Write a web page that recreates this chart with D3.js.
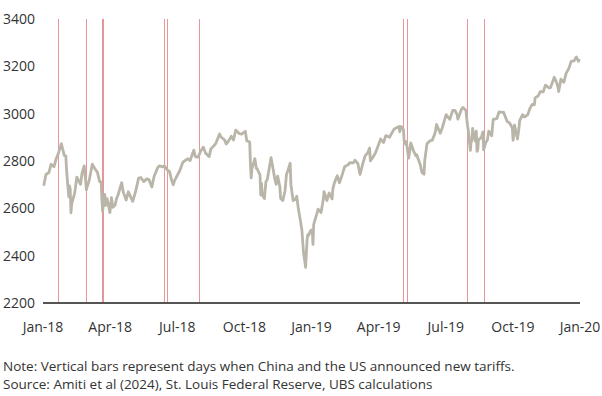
<!DOCTYPE html>
<html>
<head>
<meta charset="utf-8">
<script src="https://cdn.jsdelivr.net/npm/d3@7"></script>
<style>
  body { margin: 0; background: #fff; }
  svg { display: block; font-family: "Open Sans", sans-serif; }
</style>
</head>
<body>
<svg id="chart" width="602" height="396"></svg>
<script>
// S&P 500 closes (approximate)
const dates = [
  "2018-01-02","2018-01-05","2018-01-09","2018-01-12","2018-01-16","2018-01-19","2018-01-22","2018-01-26","2018-01-30","2018-02-01",
  "2018-02-02","2018-02-05","2018-02-06","2018-02-07","2018-02-08","2018-02-09","2018-02-13","2018-02-16","2018-02-21","2018-02-23",
  "2018-02-26","2018-02-28","2018-03-01","2018-03-02","2018-03-05","2018-03-09","2018-03-13","2018-03-16","2018-03-19","2018-03-21",
  "2018-03-22","2018-03-23","2018-03-26","2018-03-27","2018-03-29","2018-04-02","2018-04-04","2018-04-06","2018-04-09","2018-04-11",
  "2018-04-13","2018-04-18","2018-04-20","2018-04-24","2018-04-27","2018-05-03","2018-05-07","2018-05-11","2018-05-14","2018-05-18",
  "2018-05-22","2018-05-25","2018-05-29","2018-06-01","2018-06-06","2018-06-08","2018-06-13","2018-06-15","2018-06-19","2018-06-22",
  "2018-06-25","2018-06-27","2018-06-29","2018-07-06","2018-07-10","2018-07-13","2018-07-17","2018-07-20","2018-07-25","2018-07-27",
  "2018-07-31","2018-08-03","2018-08-07","2018-08-10","2018-08-15","2018-08-17","2018-08-21","2018-08-24","2018-08-29","2018-08-31",
  "2018-09-05","2018-09-07","2018-09-11","2018-09-14","2018-09-17","2018-09-20","2018-09-25","2018-09-28","2018-10-03","2018-10-05",
  "2018-10-09","2018-10-10","2018-10-11","2018-10-12","2018-10-16","2018-10-18","2018-10-19","2018-10-23","2018-10-24","2018-10-25",
  "2018-10-26","2018-10-29","2018-10-31","2018-11-02","2018-11-07","2018-11-09","2018-11-12","2018-11-14","2018-11-16","2018-11-19",
  "2018-11-20","2018-11-23","2018-11-26","2018-11-28","2018-11-30","2018-12-03","2018-12-04","2018-12-07","2018-12-10","2018-12-12",
  "2018-12-14","2018-12-17","2018-12-19","2018-12-21","2018-12-24","2018-12-26","2018-12-27","2018-12-28","2018-12-31",
  "2019-01-02","2019-01-03","2019-01-04","2019-01-08","2019-01-10","2019-01-14","2019-01-17","2019-01-18","2019-01-22","2019-01-25",
  "2019-01-29","2019-01-30","2019-02-01","2019-02-05","2019-02-08","2019-02-12","2019-02-15","2019-02-20","2019-02-22","2019-02-27",
  "2019-03-01","2019-03-05","2019-03-08","2019-03-12","2019-03-15","2019-03-18","2019-03-21","2019-03-22","2019-03-26","2019-03-29",
  "2019-04-02","2019-04-05","2019-04-09","2019-04-12","2019-04-17","2019-04-23","2019-04-26","2019-04-30","2019-05-01","2019-05-03",
  "2019-05-06","2019-05-07","2019-05-09","2019-05-10","2019-05-13","2019-05-15","2019-05-16","2019-05-20","2019-05-23","2019-05-24",
  "2019-05-29","2019-05-31","2019-06-03","2019-06-04","2019-06-07","2019-06-11","2019-06-14","2019-06-18","2019-06-20","2019-06-25",
  "2019-06-28","2019-07-03","2019-07-08","2019-07-12","2019-07-15","2019-07-18","2019-07-19","2019-07-24","2019-07-26","2019-07-30",
  "2019-07-31","2019-08-01","2019-08-02","2019-08-05","2019-08-06","2019-08-07","2019-08-08","2019-08-09","2019-08-12","2019-08-13",
  "2019-08-14","2019-08-15","2019-08-16","2019-08-20","2019-08-22","2019-08-23","2019-08-26","2019-08-28","2019-08-30","2019-09-03",
  "2019-09-05","2019-09-10","2019-09-13","2019-09-17","2019-09-19","2019-09-24","2019-09-27","2019-10-01","2019-10-02","2019-10-03",
  "2019-10-04","2019-10-08","2019-10-10","2019-10-11","2019-10-15","2019-10-18","2019-10-22","2019-10-25","2019-10-28","2019-10-31",
  "2019-11-01","2019-11-05","2019-11-08","2019-11-12","2019-11-15","2019-11-20","2019-11-22","2019-11-27","2019-11-29","2019-12-02",
  "2019-12-03","2019-12-06","2019-12-10","2019-12-13","2019-12-17","2019-12-20","2019-12-24","2019-12-27","2019-12-30","2019-12-31"
];

const spx = [
  2695.81,2743.15,2751.29,2786.24,2776.42,2810.30,2832.97,2872.87,2822.43,2821.98,
  2762.13,2648.94,2695.14,2681.66,2581.00,2619.55,2662.94,2732.22,2701.33,2747.30,
  2779.60,2713.83,2677.67,2691.25,2720.94,2786.57,2765.31,2752.01,2712.92,2711.93,
  2643.69,2588.26,2658.55,2612.62,2640.87,2581.88,2644.69,2604.47,2613.16,2642.19,
  2656.30,2708.64,2670.14,2634.56,2669.91,2629.73,2672.63,2727.72,2730.13,2712.97,
  2724.44,2721.33,2689.86,2734.62,2772.35,2779.03,2775.63,2779.66,2762.59,2754.88,
  2717.07,2699.63,2718.37,2759.82,2793.84,2801.31,2809.55,2801.83,2846.07,2818.82,
  2816.29,2840.35,2858.45,2833.28,2818.37,2850.13,2862.96,2874.69,2914.04,2901.52,
  2888.60,2871.68,2887.89,2904.98,2888.80,2930.75,2915.56,2913.98,2925.51,2885.57,
  2880.34,2785.68,2728.37,2767.13,2809.92,2768.78,2767.78,2740.69,2656.10,2705.57,
  2658.69,2641.25,2711.74,2723.06,2813.89,2781.01,2726.22,2701.58,2736.27,2690.73,
  2641.89,2632.56,2673.45,2743.79,2760.17,2790.37,2700.06,2633.08,2637.72,2651.07,
  2599.95,2545.94,2506.96,2416.62,2351.10,2467.70,2488.83,2485.74,2506.85,
  2510.03,2447.89,2531.94,2574.41,2596.64,2582.61,2635.96,2670.71,2632.90,2664.76,
  2640.00,2681.05,2706.53,2737.70,2707.88,2744.73,2775.60,2784.70,2792.67,2792.38,
  2803.69,2789.65,2743.07,2791.52,2822.48,2832.94,2854.88,2800.71,2818.46,2834.40,
  2867.24,2892.74,2878.20,2907.41,2900.45,2933.68,2939.88,2945.83,2923.73,2945.64,
  2932.47,2884.05,2870.72,2881.40,2811.87,2850.96,2876.32,2840.23,2822.24,2826.06,
  2783.02,2752.06,2744.45,2803.27,2873.34,2885.72,2886.98,2917.75,2954.18,2917.38,
  2941.76,2995.82,2975.95,3013.77,3014.30,2995.11,2976.61,3019.56,3025.86,3013.18,
  2980.38,2953.56,2932.05,2844.74,2881.77,2883.98,2938.09,2918.65,2883.09,2926.32,
  2840.60,2847.60,2888.68,2900.51,2922.95,2847.11,2878.38,2887.94,2926.46,2906.27,
  2976.00,2979.39,3007.39,3005.70,3006.79,2966.60,2961.79,2940.25,2887.61,2910.63,
  2952.01,2893.06,2938.13,2970.27,2995.68,2986.20,2995.99,3022.55,3039.42,3037.56,
  3066.91,3074.62,3093.08,3091.84,3120.46,3108.46,3110.29,3153.63,3140.98,3113.87,
  3093.20,3145.91,3132.52,3168.80,3192.52,3221.22,3223.38,3240.02,3221.29,3230.78
];

// days when China and the US announced new tariffs
const tariffDates = [
  "2018-01-22","2018-03-01","2018-03-22","2018-03-23","2018-06-15","2018-06-18",
  "2018-08-01","2019-05-05","2019-05-11","2019-08-01","2019-08-23"
];

const yTicks = [2200, 2400, 2600, 2800, 3000, 3200, 3400];
const xTickLabels = ["Jan-18","Apr-18","Jul-18","Oct-18","Jan-19","Apr-19","Jul-19","Oct-19","Jan-20"];

const notes = [
  "Note: Vertical bars represent days when China and the US announced new tariffs.",
  "Source: Amiti et al (2024), St. Louis Federal Reserve, UBS calculations"
];

const parse = d3.timeParse("%Y-%m-%d");
const series = dates.map((d, i) => ({ date: parse(d), value: spx[i] }));

const margin = { left: 43, right: 22, top: 19, bottom: 93 };
const width = 602, height = 396;

const svg = d3.select("#chart");

const x = d3.scaleTime()
  .domain([parse("2018-01-01"), parse("2020-01-01")])
  .range([margin.left, width - margin.right]);

const y = d3.scaleLinear()
  .domain([2200, 3400])
  .range([height - margin.bottom, margin.top]);

// tariff bars
svg.append("g")
  .selectAll("line")
  .data(tariffDates.map(parse))
  .join("line")
  .attr("x1", d => Math.round(x(d)) + 0.5)
  .attr("x2", d => Math.round(x(d)) + 0.5)
  .attr("y1", y(3400))
  .attr("y2", y(2200))
  .attr("stroke", "#e8959a")
  .attr("stroke-width", 1);

// y labels (no axis line)
svg.append("g")
  .attr("font-size", 14)
  .attr("fill", "#333")
  .attr("text-anchor", "start")
  .selectAll("text")
  .data(yTicks)
  .join("text")
  .attr("x", 3)
  .attr("y", d => y(d))
  .attr("dy", "0.35em")
  .text(d => d);

// x axis: quarterly ticks spread evenly
const xBand = d3.scalePoint()
  .domain(xTickLabels)
  .range([margin.left, width - margin.right]);

svg.append("line")
  .attr("x1", margin.left)
  .attr("x2", width - margin.right)
  .attr("y1", y(2200))
  .attr("y2", y(2200))
  .attr("stroke", "#555")
  .attr("stroke-width", 2);

svg.append("g")
  .attr("font-size", 14)
  .attr("fill", "#333")
  .attr("text-anchor", "middle")
  .selectAll("text")
  .data(xTickLabels)
  .join("text")
  .attr("x", d => xBand(d))
  .attr("y", y(2200) + 29)
  .text(d => d);

// the index line
const line = d3.line()
  .x(d => x(d.date))
  .y(d => y(d.value));

svg.append("path")
  .datum(series)
  .attr("fill", "none")
  .attr("stroke", "#b9b5a8")
  .attr("stroke-width", 2.8)
  .attr("stroke-linejoin", "round")
  .attr("d", line);

// notes
svg.append("g")
  .attr("font-size", 13.5)
  .attr("fill", "#333")
  .selectAll("text")
  .data(notes)
  .join("text")
  .attr("x", 3)
  .attr("y", (d, i) => 371 + i * 18)
  .text(d => d);
</script>
</body>
</html>
